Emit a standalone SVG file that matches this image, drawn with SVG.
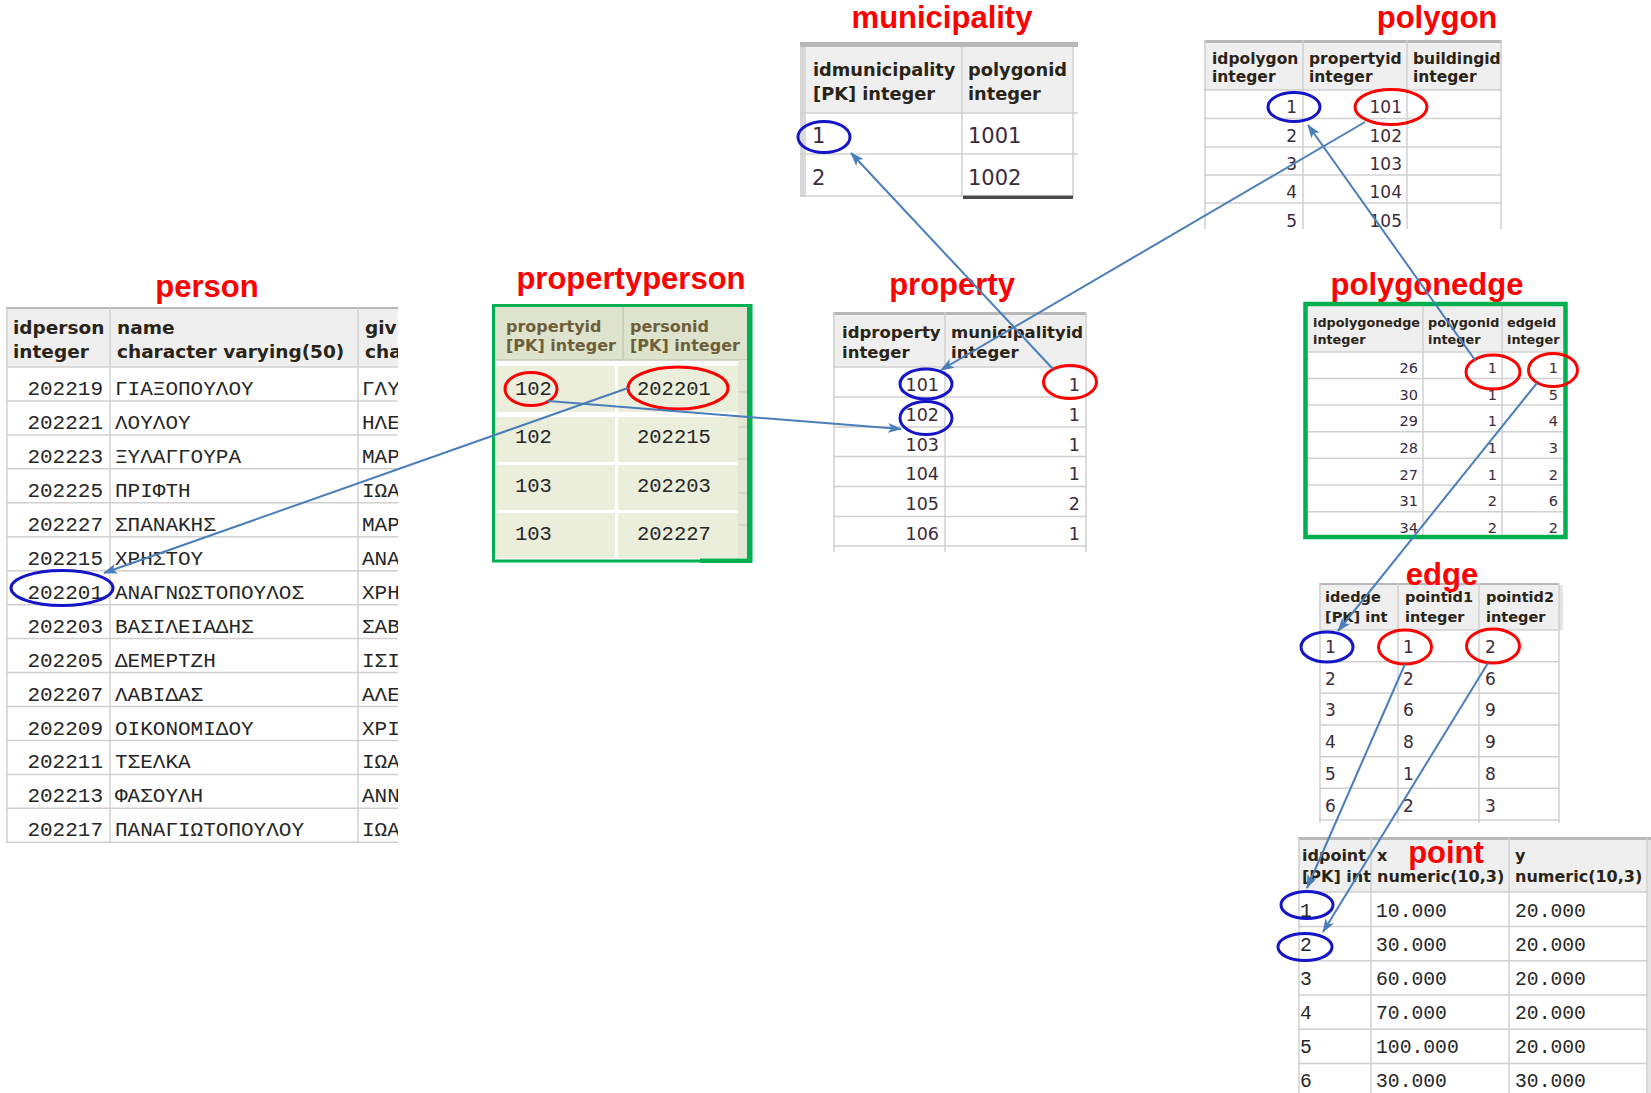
<svg xmlns="http://www.w3.org/2000/svg" width="1651" height="1093" viewBox="0 0 1651 1093">
<defs>
<style>
.title{font-family:"Liberation Sans",Arial,sans-serif;font-weight:bold;font-size:31px;fill:#ff0000;text-anchor:middle}
.hd{font-family:"DejaVu Sans",Verdana,sans-serif;font-weight:bold;fill:#2a2418}
.dv{font-family:"DejaVu Sans",Verdana,sans-serif;fill:#3b2b3b}
.mono{font-family:"Liberation Mono","Courier New",monospace;fill:#262626}
.grid{stroke:#d0d0d0;stroke-width:1.5;fill:none}
.hbg{fill:#efefef}
.tb{fill:#b8b8b8}
.bl{fill:none;stroke:#1414c8;stroke-width:3}
.rd{fill:none;stroke:#ff0000;stroke-width:3}
.conn{fill:none;stroke:#4a7ebb;stroke-width:2;marker-end:url(#ah)}
.end{text-anchor:end}
</style>
<marker id="ah" markerWidth="14" markerHeight="10" refX="13" refY="5" orient="auto" markerUnits="userSpaceOnUse">
<path d="M0,0 L14,5 L0,10 L3.5,5 z" fill="#4a7ebb"/>
</marker>
<clipPath id="cpPerson"><rect x="0" y="300" width="398" height="560"/></clipPath>
<clipPath id="cpEdgeC1"><rect x="1319" y="585" width="79" height="45"/></clipPath>
<clipPath id="cpPointC1"><rect x="1298" y="840" width="73" height="52"/></clipPath>
</defs>
<rect width="1651" height="1093" fill="#ffffff"/>

<!-- person -->
<g id="person">
<text class="title" x="207" y="297">person</text>
<g clip-path="url(#cpPerson)">
<rect x="6" y="308" width="400" height="59" class="hbg"/>
<rect x="6" y="307" width="400" height="2" class="tb"/>
<line class="grid" x1="7" y1="308" x2="7" y2="843"/>
<line class="grid" x1="110" y1="308" x2="110" y2="843"/>
<line class="grid" x1="358" y1="308" x2="358" y2="843"/>
<g class="grid">
<line x1="6" y1="367" x2="400" y2="367"/><line x1="6" y1="400.95" x2="400" y2="400.95"/><line x1="6" y1="434.9" x2="400" y2="434.9"/><line x1="6" y1="468.85" x2="400" y2="468.85"/><line x1="6" y1="502.8" x2="400" y2="502.8"/><line x1="6" y1="536.75" x2="400" y2="536.75"/><line x1="6" y1="570.7" x2="400" y2="570.7"/><line x1="6" y1="604.65" x2="400" y2="604.65"/><line x1="6" y1="638.6" x2="400" y2="638.6"/><line x1="6" y1="672.55" x2="400" y2="672.55"/><line x1="6" y1="706.5" x2="400" y2="706.5"/><line x1="6" y1="740.45" x2="400" y2="740.45"/><line x1="6" y1="774.4" x2="400" y2="774.4"/><line x1="6" y1="808.35" x2="400" y2="808.35"/><line x1="6" y1="842.3" x2="400" y2="842.3"/>
</g>
<g class="hd" font-size="18.5">
<text x="13" y="334">idperson</text><text x="13" y="358">integer</text>
<text x="117" y="334">name</text><text x="117" y="358">character varying(50)</text>
<text x="365" y="334">giv</text><text x="365" y="358">cha</text>
</g>
<g class="mono" font-size="21">
<g class="end">
<text x="103" y="395">202219</text><text x="103" y="428.95">202221</text><text x="103" y="462.9">202223</text><text x="103" y="496.85">202225</text><text x="103" y="530.8">202227</text><text x="103" y="564.75">202215</text><text x="103" y="598.7">202201</text><text x="103" y="632.65">202203</text><text x="103" y="666.6">202205</text><text x="103" y="700.55">202207</text><text x="103" y="734.5">202209</text><text x="103" y="768.45">202211</text><text x="103" y="802.4">202213</text><text x="103" y="836.35">202217</text>
</g>
<text x="115" y="395">ΓΙΑΞΟΠΟΥΛΟΥ</text><text x="115" y="428.95">ΛΟΥΛΟΥ</text><text x="115" y="462.9">ΞΥΛΑΓΓΟΥΡΑ</text><text x="115" y="496.85">ΠΡΙΦΤΗ</text><text x="115" y="530.8">ΣΠΑΝΑΚΗΣ</text><text x="115" y="564.75">ΧΡΗΣΤΟΥ</text><text x="115" y="598.7">ΑΝΑΓΝΩΣΤΟΠΟΥΛΟΣ</text><text x="115" y="632.65">ΒΑΣΙΛΕΙΑΔΗΣ</text><text x="115" y="666.6">ΔΕΜΕΡΤΖΗ</text><text x="115" y="700.55">ΛΑΒΙΔΑΣ</text><text x="115" y="734.5">ΟΙΚΟΝΟΜΙΔΟΥ</text><text x="115" y="768.45">ΤΣΕΛΚΑ</text><text x="115" y="802.4">ΦΑΣΟΥΛΗ</text><text x="115" y="836.35">ΠΑΝΑΓΙΩΤΟΠΟΥΛΟΥ</text>
<text x="362" y="395">ΓΛΥ</text><text x="362" y="428.95">ΗΛΕ</text><text x="362" y="462.9">ΜΑΡ</text><text x="362" y="496.85">ΙΩΑ</text><text x="362" y="530.8">ΜΑΡ</text><text x="362" y="564.75">ΑΝΑ</text><text x="362" y="598.7">ΧΡΗ</text><text x="362" y="632.65">ΣΑΒ</text><text x="362" y="666.6">ΙΣΙ</text><text x="362" y="700.55">ΑΛΕ</text><text x="362" y="734.5">ΧΡΙ</text><text x="362" y="768.45">ΙΩΑ</text><text x="362" y="802.4">ΑΝΝ</text><text x="362" y="836.35">ΙΩΑ</text>
</g>
</g>
<ellipse class="bl" cx="62" cy="588" rx="51" ry="17.5"/>
</g>

<!-- propertyperson -->
<g id="propertyperson">
<text class="title" x="631" y="289">propertyperson</text>
<rect x="494" y="306" width="255" height="255" fill="#ffffff"/>
<rect x="495" y="307" width="252" height="53" fill="#dde3cc"/>
<line x1="623" y1="307" x2="623" y2="360" stroke="#c6cab6" stroke-width="1.5"/>
<line x1="495" y1="360" x2="747" y2="360" stroke="#c6cab6" stroke-width="1.5"/>
<rect x="738" y="360" width="9" height="198" fill="#e2e6d3"/>
<g stroke="#c9cbbd" stroke-width="1"><line x1="738" y1="392" x2="747" y2="392"/><line x1="738" y1="427" x2="747" y2="427"/><line x1="738" y1="459" x2="747" y2="459"/><line x1="738" y1="493" x2="747" y2="493"/><line x1="738" y1="525" x2="747" y2="525"/></g>
<g fill="#eaeedb">
<rect x="496" y="366" width="119" height="46"/><rect x="618" y="366" width="120" height="46"/>
<rect x="496" y="417" width="119" height="45"/><rect x="618" y="417" width="120" height="45"/>
<rect x="496" y="465" width="119" height="45"/><rect x="618" y="465" width="120" height="45"/>
<rect x="496" y="513" width="119" height="45"/><rect x="618" y="513" width="120" height="45"/>
</g>
<rect x="493.5" y="305.5" width="255" height="255.5" fill="none" stroke="#00b050" stroke-width="3"/>
<rect x="747" y="304" width="5.5" height="259" fill="#00b050"/>
<rect x="700" y="558.5" width="52" height="4.5" fill="#00b050"/>
<g class="hd" font-size="16" style="fill:#6f5e3a">
<text x="506" y="332">propertyid</text><text x="506" y="351">[PK] integer</text>
<text x="630" y="332">personid</text><text x="630" y="351">[PK] integer</text>
</g>
<g class="mono" font-size="20.5">
<text x="515" y="395">102</text><text x="637" y="395">202201</text>
<text x="515" y="443">102</text><text x="637" y="443">202215</text>
<text x="515" y="492">103</text><text x="637" y="492">202203</text>
<text x="515" y="540">103</text><text x="637" y="540">202227</text>
</g>
<ellipse class="rd" cx="531" cy="389" rx="26" ry="16.5"/>
<ellipse class="rd" cx="678" cy="388" rx="50" ry="21"/>
</g>

<!-- municipality -->
<g id="municipality">
<text class="title" x="942" y="28">municipality</text>
<rect x="800" y="47" width="278" height="150" fill="#ffffff"/>
<rect x="805" y="47" width="268" height="66" class="hbg"/>
<rect x="800" y="42" width="278" height="5" class="tb"/>
<rect x="800" y="47" width="4" height="150" fill="#d8d8d8"/>
<g class="grid">
<line x1="805" y1="47" x2="805" y2="197"/><line x1="962" y1="47" x2="962" y2="197"/><line x1="1073" y1="47" x2="1073" y2="197"/>
<line x1="800" y1="113" x2="1078" y2="113"/><line x1="800" y1="154" x2="1078" y2="154"/><line x1="800" y1="196" x2="962" y2="196"/>
</g>
<rect x="963" y="195.5" width="110" height="3.5" fill="#4a4a4a"/>
<g class="hd" font-size="17.8">
<text x="813" y="76">idmunicipality</text><text x="813" y="100">[PK] integer</text>
<text x="968" y="76">polygonid</text><text x="968" y="100">integer</text>
</g>
<g class="dv" font-size="21">
<text x="812" y="143">1</text><text x="968" y="143">1001</text>
<text x="812" y="185">2</text><text x="968" y="185">1002</text>
</g>
<ellipse class="bl" cx="824" cy="137" rx="26" ry="15.5"/>
</g>

<!-- polygon -->
<g id="polygon">
<text class="title" x="1437" y="28">polygon</text>
<rect x="1204" y="43" width="298" height="47" class="hbg"/>
<rect x="1204" y="40" width="298" height="3" class="tb"/>
<g class="grid">
<line x1="1205" y1="40" x2="1205" y2="229"/><line x1="1303" y1="40" x2="1303" y2="229"/><line x1="1407" y1="40" x2="1407" y2="229"/><line x1="1501" y1="40" x2="1501" y2="229"/>
<line x1="1204" y1="90" x2="1502" y2="90"/><line x1="1204" y1="118.5" x2="1502" y2="118.5"/><line x1="1204" y1="147" x2="1502" y2="147"/><line x1="1204" y1="175" x2="1502" y2="175"/><line x1="1204" y1="203" x2="1502" y2="203"/>
</g>
<g class="hd" font-size="15.5">
<text x="1212" y="64">idpolygon</text><text x="1212" y="82">integer</text>
<text x="1309" y="64">propertyid</text><text x="1309" y="82">integer</text>
<text x="1413" y="64">buildingid</text><text x="1413" y="82">integer</text>
</g>
<g class="dv end" font-size="17">
<text x="1297" y="113">1</text><text x="1402" y="113">101</text>
<text x="1297" y="142">2</text><text x="1402" y="142">102</text>
<text x="1297" y="170">3</text><text x="1402" y="170">103</text>
<text x="1297" y="198">4</text><text x="1402" y="198">104</text>
<text x="1297" y="227">5</text><text x="1402" y="227">105</text>
</g>
<ellipse class="bl" cx="1294" cy="107" rx="26" ry="14.5"/>
<ellipse class="rd" cx="1391" cy="107" rx="36" ry="17.5"/>
</g>

<!-- property -->
<g id="property">
<text class="title" x="952" y="295">property</text>
<rect x="833" y="315" width="253" height="237" fill="#ffffff"/>
<rect x="833" y="315" width="253" height="52" class="hbg"/>
<rect x="833" y="312" width="253" height="3" class="tb"/>
<g class="grid">
<line x1="834" y1="312" x2="834" y2="552"/><line x1="945" y1="312" x2="945" y2="552"/><line x1="1086" y1="312" x2="1086" y2="552"/>
<line x1="833" y1="367" x2="1086" y2="367"/><line x1="833" y1="397" x2="1086" y2="397"/><line x1="833" y1="427" x2="1086" y2="427"/><line x1="833" y1="456.5" x2="1086" y2="456.5"/><line x1="833" y1="486.5" x2="1086" y2="486.5"/><line x1="833" y1="516.5" x2="1086" y2="516.5"/><line x1="833" y1="546" x2="1086" y2="546"/>
</g>
<g class="hd" font-size="16.5">
<text x="842" y="338">idproperty</text><text x="842" y="358">integer</text>
<text x="951" y="338">municipalityid</text><text x="951" y="358">integer</text>
</g>
<g class="dv end" font-size="17.5">
<text x="939" y="391">101</text><text x="1080" y="391">1</text>
<text x="939" y="421">102</text><text x="1080" y="421">1</text>
<text x="939" y="451">103</text><text x="1080" y="451">1</text>
<text x="939" y="480">104</text><text x="1080" y="480">1</text>
<text x="939" y="510">105</text><text x="1080" y="510">2</text>
<text x="939" y="540">106</text><text x="1080" y="540">1</text>
</g>
<ellipse class="bl" cx="926" cy="384" rx="26" ry="15"/>
<ellipse class="bl" cx="926" cy="418" rx="26" ry="16.5"/>
<ellipse class="rd" cx="1070" cy="382" rx="26.5" ry="16.5"/>
</g>

<!-- polygonedge -->
<g id="polygonedge">
<text class="title" x="1427" y="295">polygonedge</text>
<rect x="1307" y="306" width="256" height="229" fill="#ffffff"/>
<rect x="1307" y="306" width="256" height="46" class="hbg"/>
<g class="grid">
<line x1="1423" y1="306" x2="1423" y2="536"/><line x1="1502" y1="306" x2="1502" y2="536"/>
<line x1="1307" y1="352" x2="1563" y2="352"/><line x1="1307" y1="378.5" x2="1563" y2="378.5"/><line x1="1307" y1="405" x2="1563" y2="405"/><line x1="1307" y1="431.7" x2="1563" y2="431.7"/><line x1="1307" y1="458.3" x2="1563" y2="458.3"/><line x1="1307" y1="485" x2="1563" y2="485"/><line x1="1307" y1="511.7" x2="1563" y2="511.7"/>
</g>
<rect x="1305.5" y="304" width="260" height="233" fill="none" stroke="#00b050" stroke-width="4.5"/>
<g class="hd" font-size="12.8">
<text x="1313" y="327">idpolygonedge</text><text x="1313" y="344">integer</text>
<text x="1428" y="327">polygonid</text><text x="1428" y="344">integer</text>
<text x="1507" y="327">edgeid</text><text x="1507" y="344">integer</text>
</g>
<g class="dv end" font-size="14.5">
<text x="1418" y="373">26</text><text x="1497" y="373">1</text><text x="1558" y="373">1</text>
<text x="1418" y="399.6">30</text><text x="1497" y="399.6">1</text><text x="1558" y="399.6">5</text>
<text x="1418" y="426.3">29</text><text x="1497" y="426.3">1</text><text x="1558" y="426.3">4</text>
<text x="1418" y="453">28</text><text x="1497" y="453">1</text><text x="1558" y="453">3</text>
<text x="1418" y="479.6">27</text><text x="1497" y="479.6">1</text><text x="1558" y="479.6">2</text>
<text x="1418" y="506.3">31</text><text x="1497" y="506.3">2</text><text x="1558" y="506.3">6</text>
<text x="1418" y="533">34</text><text x="1497" y="533">2</text><text x="1558" y="533">2</text>
</g>
<ellipse class="rd" cx="1493" cy="372" rx="27" ry="17"/>
<ellipse class="rd" cx="1553" cy="370" rx="24.5" ry="16.5"/>
</g>

<!-- edge -->
<g id="edge">
<rect x="1319" y="585" width="240" height="238" fill="#ffffff"/>
<rect x="1319" y="585" width="240" height="45" class="hbg"/>
<rect x="1319" y="583" width="240" height="2" class="tb"/>
<rect x="1559" y="585" width="4" height="45" fill="#e4e4e4"/>
<g class="grid">
<line x1="1320" y1="583" x2="1320" y2="823"/><line x1="1398" y1="583" x2="1398" y2="823"/><line x1="1479" y1="583" x2="1479" y2="823"/><line x1="1559" y1="583" x2="1559" y2="823"/>
<line x1="1319" y1="630" x2="1559" y2="630"/><line x1="1319" y1="661.7" x2="1559" y2="661.7"/><line x1="1319" y1="693.3" x2="1559" y2="693.3"/><line x1="1319" y1="725" x2="1559" y2="725"/><line x1="1319" y1="756.7" x2="1559" y2="756.7"/><line x1="1319" y1="788.3" x2="1559" y2="788.3"/><line x1="1319" y1="820" x2="1559" y2="820"/>
</g>
<g class="hd" font-size="14.5">
<text x="1325" y="602">idedge</text><text x="1325" y="622" clip-path="url(#cpEdgeC1)">[PK] int</text>
<text x="1405" y="602">pointid1</text><text x="1405" y="622">integer</text>
<text x="1486" y="602">pointid2</text><text x="1486" y="622">integer</text>
</g>
<g class="dv" font-size="17">
<text x="1325" y="653">1</text><text x="1403" y="653">1</text><text x="1485" y="653">2</text>
<text x="1325" y="684.7">2</text><text x="1403" y="684.7">2</text><text x="1485" y="684.7">6</text>
<text x="1325" y="716.4">3</text><text x="1403" y="716.4">6</text><text x="1485" y="716.4">9</text>
<text x="1325" y="748.1">4</text><text x="1403" y="748.1">8</text><text x="1485" y="748.1">9</text>
<text x="1325" y="779.8">5</text><text x="1403" y="779.8">1</text><text x="1485" y="779.8">8</text>
<text x="1325" y="811.5">6</text><text x="1403" y="811.5">2</text><text x="1485" y="811.5">3</text>
</g>
<ellipse class="bl" cx="1327" cy="647" rx="26" ry="15"/>
<ellipse class="rd" cx="1405" cy="647" rx="26.5" ry="17"/>
<ellipse class="rd" cx="1493" cy="646" rx="26.5" ry="17"/>
<text class="title" x="1442" y="585">edge</text>
</g>

<!-- point -->
<g id="point">
<rect x="1298" y="840" width="349" height="253" fill="#ffffff"/>
<rect x="1298" y="840" width="349" height="52" class="hbg"/>
<rect x="1298" y="837" width="353" height="3" class="tb"/>
<rect x="1647" y="840" width="4" height="253" fill="#e6e6e6"/>
<g class="grid">
<line x1="1299" y1="838" x2="1299" y2="1093"/><line x1="1371" y1="838" x2="1371" y2="1093"/><line x1="1509" y1="838" x2="1509" y2="1093"/><line x1="1647" y1="838" x2="1647" y2="1093"/>
<line x1="1298" y1="892" x2="1647" y2="892"/><line x1="1298" y1="926.5" x2="1647" y2="926.5"/><line x1="1298" y1="960.7" x2="1647" y2="960.7"/><line x1="1298" y1="995" x2="1647" y2="995"/><line x1="1298" y1="1029.3" x2="1647" y2="1029.3"/><line x1="1298" y1="1063.5" x2="1647" y2="1063.5"/>
</g>
<g class="hd" font-size="16">
<text x="1302" y="861">idpoint</text><text x="1302" y="882" clip-path="url(#cpPointC1)">[PK] int</text>
<text x="1377" y="861">x</text><text x="1377" y="882">numeric(10,3)</text>
<text x="1515" y="861">y</text><text x="1515" y="882">numeric(10,3)</text>
</g>
<g class="mono" font-size="19.7">
<text x="1300" y="917">1</text><text x="1376" y="917">10.000</text><text x="1515" y="917">20.000</text>
<text x="1300" y="951">2</text><text x="1376" y="951">30.000</text><text x="1515" y="951">20.000</text>
<text x="1300" y="985">3</text><text x="1376" y="985">60.000</text><text x="1515" y="985">20.000</text>
<text x="1300" y="1019">4</text><text x="1376" y="1019">70.000</text><text x="1515" y="1019">20.000</text>
<text x="1300" y="1053">5</text><text x="1376" y="1053">100.000</text><text x="1515" y="1053">20.000</text>
<text x="1300" y="1087">6</text><text x="1376" y="1087">30.000</text><text x="1515" y="1087">30.000</text>
</g>
<ellipse class="bl" cx="1307" cy="905" rx="26" ry="13.5"/>
<ellipse class="bl" cx="1305" cy="947" rx="27" ry="13.5"/>
<text class="title" x="1446" y="863">point</text>
</g>

<!-- connectors -->
<g id="connectors">
<path class="conn" d="M628,388 L104,573"/>
<path class="conn" d="M548,401 L901,429"/>
<path class="conn" d="M1053,369 L851,153"/>
<path class="conn" d="M1365,122 L941,370"/>
<path class="conn" d="M1475,360 L1308,125"/>
<path class="conn" d="M1537,383 L1338,631"/>
<path class="conn" d="M1405,664 L1307,888"/>
<path class="conn" d="M1488,663 L1323,932"/>
</g>
</svg>
